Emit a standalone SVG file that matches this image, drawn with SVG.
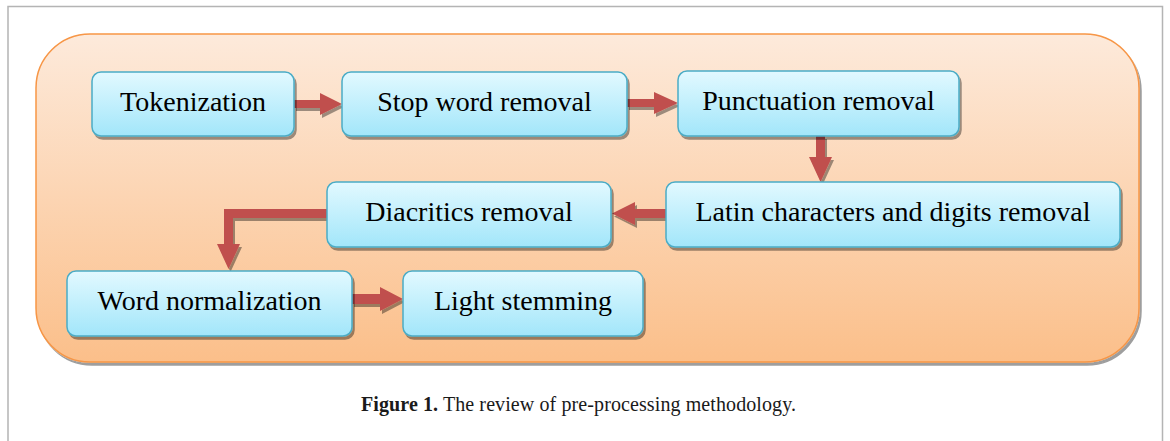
<svg xmlns="http://www.w3.org/2000/svg" width="1170" height="441" viewBox="0 0 1170 441">
  <style>
    .frame { fill: none; stroke: #b4b4b4; stroke-width: 1.5; }
    .panel { fill: url(#panelFill); stroke: #f79646; stroke-width: 1.5; filter: url(#shadow); }
    .box { fill: url(#boxFill); stroke: #4bacc6; stroke-width: 1.5; filter: url(#shadow); }
    .label { font-family: "Liberation Serif", "Times New Roman", serif; font-size: 28px; fill: #000; text-anchor: middle; }
    .arrow { fill: #c0504d; filter: url(#shadow); }
    .caption { font-family: "Liberation Serif", "Times New Roman", serif; font-size: 20px; fill: #1a1a1a; }
  </style>
  <defs>
    <linearGradient id="panelFill" x1="0" y1="0" x2="0" y2="1">
      <stop offset="0" stop-color="#fdeadb"/>
      <stop offset="1" stop-color="#fbbf8a"/>
    </linearGradient>
    <linearGradient id="boxFill" x1="0" y1="0" x2="0" y2="1">
      <stop offset="0" stop-color="#e2f9ff"/>
      <stop offset="1" stop-color="#a2e6fa"/>
    </linearGradient>
    <filter id="shadow" x="-10%" y="-10%" width="130%" height="140%">
      <feDropShadow dx="2" dy="3" stdDeviation="0.6" flood-color="#000" flood-opacity="0.38"/>
    </filter>
  </defs>

  <rect width="1170" height="441" fill="#fff"/>
  <!-- page frame -->
  <path class="frame" d="M8,441 V6.5 H1162.5 V441"/>

  <!-- background panel -->
  <rect class="panel" x="36" y="34" width="1103" height="328" rx="54" ry="54"/>

  <!-- connectors -->
  <g id="connectors">
    <path class="arrow" d="M294,100 H320 V93 L342,104 L320,115 V108 H294 Z"/>
    <path class="arrow" d="M627,99 H654 V92 L678,103 L654,114 V107 H627 Z"/>
    <path class="arrow" d="M816,136 H825 V157 H832 L820.5,182 L809,157 H816 Z"/>
    <path class="arrow" d="M666,209 H635 V202 L612,213.5 L635,225 V218 H666 Z"/>
    <path class="arrow" d="M327,209 H224 V244 H217 L228.5,269 L240,244 H233 V218 H327 Z"/>
    <path class="arrow" d="M352,294 H380 V287 L403,299 L380,311 V304 H352 Z"/>
  </g>

  <!-- steps -->
  <g id="tokenization">
    <rect class="box" x="92" y="72" width="202" height="64" rx="9"/>
    <text class="label" x="193" y="111">Tokenization</text>
  </g>
  <g id="stop-word-removal">
    <rect class="box" x="342" y="72" width="285" height="64" rx="9"/>
    <text class="label" x="484.5" y="111">Stop word removal</text>
  </g>
  <g id="punctuation-removal">
    <rect class="box" x="678" y="71" width="281" height="65" rx="9"/>
    <text class="label" x="818.5" y="110">Punctuation removal</text>
  </g>
  <g id="latin-digits-removal">
    <rect class="box" x="666" y="182" width="454" height="65" rx="9"/>
    <text class="label" x="893" y="221">Latin characters and digits removal</text>
  </g>
  <g id="diacritics-removal">
    <rect class="box" x="327" y="182" width="284" height="65" rx="9"/>
    <text class="label" x="469" y="221">Diacritics removal</text>
  </g>
  <g id="word-normalization">
    <rect class="box" x="67" y="271" width="285" height="65" rx="9"/>
    <text class="label" x="209.5" y="310">Word normalization</text>
  </g>
  <g id="light-stemming">
    <rect class="box" x="403" y="271" width="240" height="65" rx="9"/>
    <text class="label" x="523" y="310">Light stemming</text>
  </g>

  <!-- caption -->
  <text class="caption" x="361" y="411" textLength="435" lengthAdjust="spacing"><tspan font-weight="bold">Figure 1.</tspan> The review of pre-processing methodology.</text>
</svg>
